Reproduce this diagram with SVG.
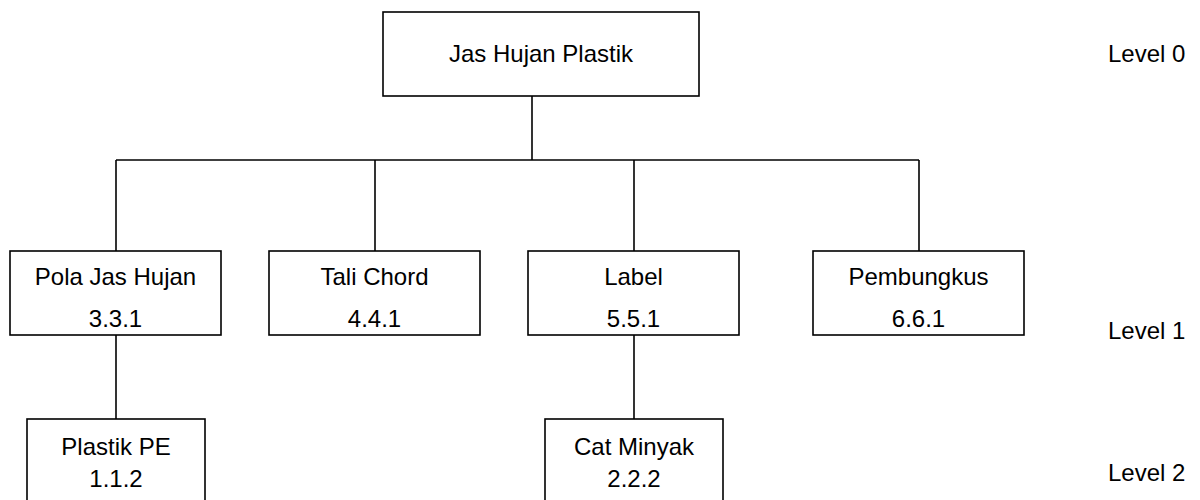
<svg xmlns="http://www.w3.org/2000/svg" width="1200" height="500" viewBox="0 0 1200 500">
  <style>
    .box { fill: #ffffff; stroke: #000000; stroke-width: 1.6; }
    .conn { fill: none; stroke: #000000; stroke-width: 1.6; }
    text { font-family: "Liberation Sans", Arial, sans-serif; font-size: 24px; fill: #000000; }
    .c { text-anchor: middle; }
  </style>
  <rect width="1200" height="500" fill="#ffffff"/>
  <g id="connectors">
    <path class="conn" d="M532,96 V160"/>
    <path class="conn" d="M116,160 H919"/>
    <path class="conn" d="M116,160 V251"/>
    <path class="conn" d="M375,160 V251"/>
    <path class="conn" d="M634,160 V251"/>
    <path class="conn" d="M919,160 V251"/>
    <path class="conn" d="M116,335 V419"/>
    <path class="conn" d="M634,335 V419"/>
  </g>
  <g id="node-root">
    <rect class="box" x="383" y="12" width="316" height="84"/>
    <text class="c" x="541" y="62">Jas Hujan Plastik</text>
  </g>
  <g id="node-pola">
    <rect class="box" x="10" y="251" width="211" height="84"/>
    <text class="c" x="115.5" y="285">Pola Jas Hujan</text>
    <text class="c" x="115.5" y="327">3.3.1</text>
  </g>
  <g id="node-tali">
    <rect class="box" x="269" y="251" width="211" height="84"/>
    <text class="c" x="374.5" y="285">Tali Chord</text>
    <text class="c" x="374.5" y="327">4.4.1</text>
  </g>
  <g id="node-label">
    <rect class="box" x="528" y="251" width="211" height="84"/>
    <text class="c" x="633.5" y="285">Label</text>
    <text class="c" x="633.5" y="327">5.5.1</text>
  </g>
  <g id="node-pembungkus">
    <rect class="box" x="813" y="251" width="211" height="84"/>
    <text class="c" x="918.5" y="285">Pembungkus</text>
    <text class="c" x="918.5" y="327">6.6.1</text>
  </g>
  <g id="node-plastik">
    <rect class="box" x="27" y="419" width="178" height="100"/>
    <text class="c" x="116" y="455">Plastik PE</text>
    <text class="c" x="116" y="487">1.1.2</text>
  </g>
  <g id="node-cat">
    <rect class="box" x="545" y="419" width="178" height="100"/>
    <text class="c" x="634" y="455">Cat Minyak</text>
    <text class="c" x="634" y="487">2.2.2</text>
  </g>
  <g id="level-labels">
    <text x="1108" y="62">Level 0</text>
    <text x="1108" y="339">Level 1</text>
    <text x="1108" y="481">Level 2</text>
  </g>
</svg>
